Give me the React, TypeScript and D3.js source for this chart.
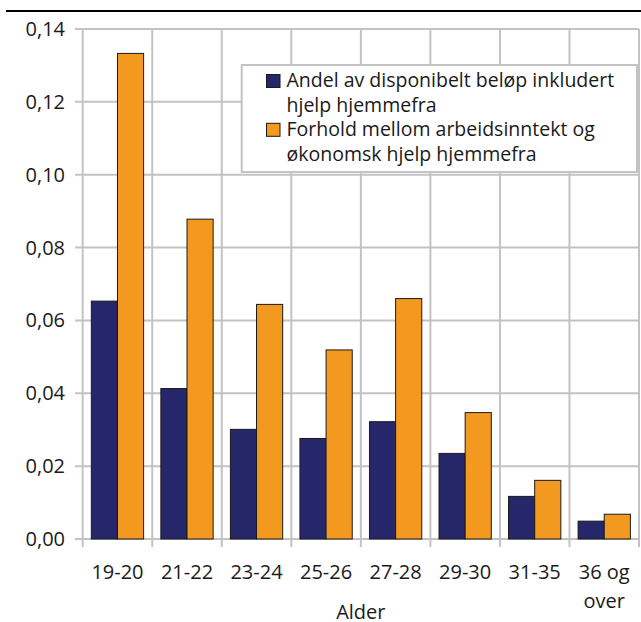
import React from "react";
import * as d3 from "d3";

const categories = ["19-20", "21-22", "23-24", "25-26", "27-28", "29-30", "31-35", "36 og over"];
const seriesNames = [
  "Andel av disponibelt beløp inkludert hjelp hjemmefra",
  "Forhold mellom arbeidsinntekt og økonomsk hjelp hjemmefra",
];
const andel = [0.0653, 0.0413, 0.0301, 0.0276, 0.0322, 0.0235, 0.0117, 0.0049];
const forhold = [0.1333, 0.0878, 0.0644, 0.0519, 0.066, 0.0347, 0.0161, 0.0068];
const yTicks = [0, 0.02, 0.04, 0.06, 0.08, 0.1, 0.12, 0.14];
const legendLines = [
  ["Andel av disponibelt beløp inkludert", "hjelp hjemmefra"],
  ["Forhold mellom arbeidsinntekt og", "økonomsk hjelp hjemmefra"],
];
const colors = ["#26266b", "#f4991f"];

const W = 641;
const H = 622;
const left = 82.7;
const right = 639;
const top = 29;
const bottom = 539;
const FONT = "'Open Sans', sans-serif";
const GRID = "#c3c3c3";

export default function App() {
  const x0 = d3.scaleBand<string>().domain(categories).range([left, right]).paddingInner(0).paddingOuter(0);
  const bw = x0.bandwidth();
  const x1 = d3.scaleBand<string>().domain(["a", "f"]).range([0, bw]).paddingInner(0).paddingOuter(0.33);
  const y = d3.scaleLinear().domain([0, 0.14]).range([bottom, top]);
  const fmt = (v: number) => d3.format(".2f")(v).replace(".", ",");
  const data = [andel, forhold];
  const keys = ["a", "f"];
  const boundaries = d3.range(categories.length + 1).map((i) => left + i * bw);

  return (
    <svg width={W} height={H} style={{ position: "absolute", left: 0, top: 0 }} fontFamily={FONT}>
      <rect x={0} y={0} width={W} height={H} fill="#fff" />
      <line x1={6} x2={W} y1={11} y2={11} stroke="#000" strokeWidth={2} />
      {yTicks.map((t) => (
        <g key={t}>
          <line x1={75} x2={right} y1={y(t)} y2={y(t)} stroke={GRID} strokeWidth={2} />
          <text x={65} y={y(t) + 7} textAnchor="end" fontSize={20} fill="#1a1a1a">
            {fmt(t)}
          </text>
        </g>
      ))}
      {boundaries.map((bx, i) => (
        <line key={i} x1={bx} x2={bx} y1={top} y2={547} stroke={GRID} strokeWidth={2} />
      ))}
      {categories.map((c, i) => (
        <g key={c}>
          {data.map((s, j) => (
            <rect
              key={j}
              x={(x0(c) as number) + (x1(keys[j]) as number)}
              y={y(s[i])}
              width={x1.bandwidth()}
              height={bottom - y(s[i])}
              fill={colors[j]}
              stroke="#1a1a1a"
              strokeWidth={1}
            />
          ))}
        </g>
      ))}
      {categories.map((c) => {
        const parts = c === "36 og over" ? ["36 og", "over"] : [c];
        return (
          <text key={c} textAnchor="middle" fontSize={20} fill="#1a1a1a">
            {parts.map((p, k) => (
              <tspan key={k} x={(x0(c) as number) + bw / 2} y={579 + k * 29}>
                {p}
              </tspan>
            ))}
          </text>
        );
      })}
      <text x={(left + right) / 2} y={619} textAnchor="middle" fontSize={20} fill="#1a1a1a">
        Alder
      </text>
      <g>
        <rect x={241.7} y={65} width={395.3} height={107} fill="#fff" stroke={GRID} strokeWidth={2} />
        {legendLines.map((lines, j) => (
          <g key={j}>
            <rect x={266.5} y={74.5 + j * 48.8} width={13.5} height={13} fill={colors[j]} stroke="#1a1a1a" strokeWidth={1} />
            {lines.map((ln, k) => (
              <text key={k} x={286.5} y={87.3 + j * 48.8 + k * 24.4} fontSize={19.5} fill="#1a1a1a">
                {ln}
              </text>
            ))}
          </g>
        ))}
        <title>{seriesNames.join(" / ")}</title>
      </g>
    </svg>
  );
}
